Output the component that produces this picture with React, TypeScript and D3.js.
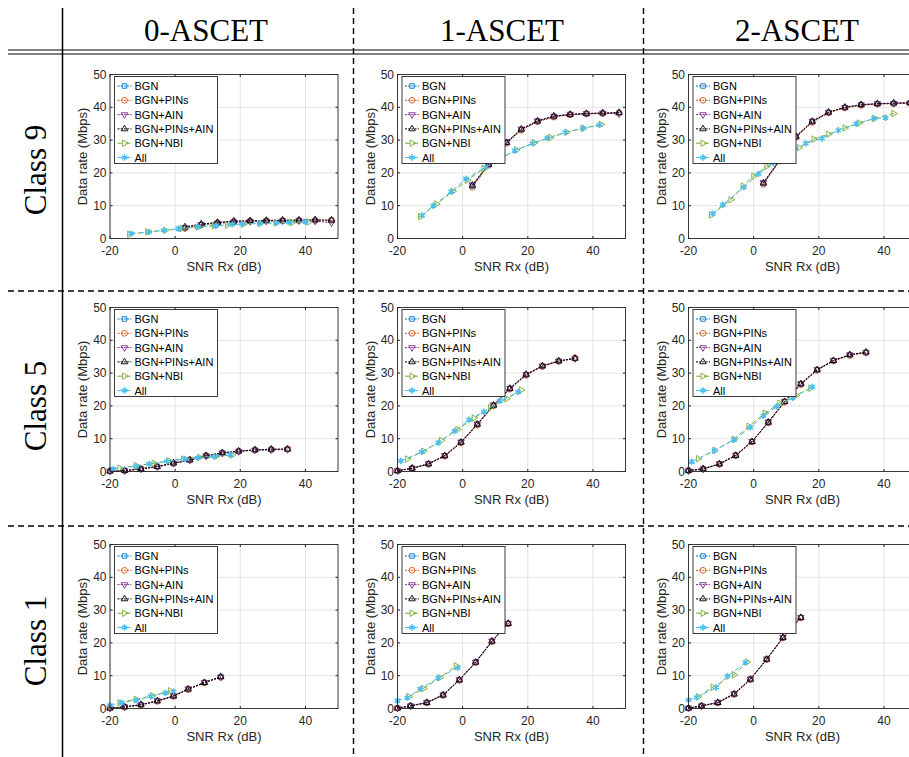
import React from "react";
import * as d3 from "d3";

// ---- table headers ----
const colHeaders = ["0-ASCET", "1-ASCET", "2-ASCET"];
const rowHeaders = ["Class 9", "Class 5", "Class 1"];
const legendNames = ["BGN", "BGN+PINs", "BGN+AIN", "BGN+PINs+AIN", "BGN+NBI", "All"];
const xTicks = [-20, 0, 20, 40];
const yTicks = [0, 10, 20, 30, 40, 50];

// ---- Class 9 / 0-ASCET ----
const c9a0X = [3, 8, 13, 18, 23, 28, 33, 38, 43, 48];
const c9a0Bgn = [3.2, 4.2, 4.8, 5.1, 5.3, 5.4, 5.4, 5.5, 5.5, 5.5];
const c9a0Pins = [3.1, 4.1, 4.8, 5.2, 5.3, 5.4, 5.5, 5.5, 5.5, 5.6];
const c9a0Ain = [3.3, 4.3, 4.6, 5.0, 5.2, 5.3, 5.4, 5.4, 5.3, 4.8];
const c9a0PinsAin = [3.5, 4.4, 4.9, 5.3, 5.4, 5.5, 5.6, 5.6, 5.7, 5.6];
const c9a0NbiX = [-14, -8.5, -3, 2, 7, 12, 16, 21, 26, 31, 36, 41];
const c9a0Nbi = [1.3, 2.0, 2.5, 3.0, 3.5, 3.9, 4.1, 4.4, 4.6, 4.8, 4.9, 5.0];
const c9a0AllX = [-13.5, -8, -3.5, 1, 7, 12.5, 17.5, 20.5, 26, 31, 35, 40];
const c9a0All = [1.5, 2.0, 2.5, 3.0, 3.6, 3.9, 4.3, 4.4, 4.6, 4.7, 4.9, 5.1];

// ---- Class 9 / 1-ASCET ----
const c9a1X = [3, 8, 13.5, 18, 23, 28, 33, 38, 43, 48];
const c9a1Bgn = [16.0, 22.5, 29.3, 33.2, 35.7, 37.2, 37.8, 38.0, 38.2, 38.3];
const c9a1Pins = [15.6, 22.3, 29.0, 33.0, 35.6, 37.0, 37.7, 38.0, 38.1, 38.2];
const c9a1Ain = [16.4, 22.8, 29.5, 33.4, 35.9, 37.3, 37.9, 38.1, 38.2, 38.0];
const c9a1PinsAin = [16.2, 22.6, 29.2, 33.3, 35.8, 37.3, 37.8, 38.1, 38.3, 38.4];
const c9a1NbiX = [-13, -8, -3, 1.5, 6.5, 11.5, 16.5, 22, 27, 32, 37, 42.5];
const c9a1Nbi = [6.7, 10.5, 14.4, 17.8, 21.3, 24.4, 27.0, 29.2, 30.8, 32.4, 33.6, 34.8];
const c9a1AllX = [-12.5, -9, -3.5, 1, 7, 11, 16, 21.5, 26, 31.5, 37, 42];
const c9a1All = [7.0, 10.0, 14.3, 18.2, 21.7, 24.0, 26.8, 29.0, 30.6, 32.4, 33.6, 34.6];

// ---- Class 9 / 2-ASCET ----
const c9a2X = [3, 8, 13, 18, 23, 28, 33, 38, 43, 48];
const c9a2Bgn = [16.8, 23.8, 31.0, 35.6, 38.4, 39.9, 40.7, 41.0, 41.2, 41.3];
const c9a2Pins = [16.5, 23.6, 30.8, 35.4, 38.3, 39.8, 40.6, 41.0, 41.1, 41.2];
const c9a2Ain = [17.1, 24.0, 31.2, 35.8, 38.5, 40.0, 40.8, 41.1, 41.2, 41.3];
const c9a2PinsAin = [16.9, 23.9, 31.1, 35.7, 38.5, 40.0, 40.8, 41.1, 41.3, 41.4];
const c9a2NbiX = [-13, -7, -3.3, 0, 4, 9, 14, 18.5, 23, 28, 32.5, 37, 43];
const c9a2Nbi = [7.2, 11.8, 16.0, 19.0, 22.0, 25.0, 27.7, 30.3, 31.8, 33.7, 35.2, 36.6, 38.1];
const c9a2AllX = [-12.5, -9.5, -3, 1.5, 6, 11, 16, 21, 26, 31.5, 37, 40.5];
const c9a2All = [7.6, 10.3, 15.6, 19.7, 23.0, 26.0, 29.0, 30.5, 33.0, 35.0, 36.6, 36.8];

// ---- Class 5 / 0-ASCET ----
const c5a0X = [-20, -15.5, -10.5, -5.5, -0.5, 4.5, 9.5, 14.5, 19.5, 24.5, 29.5, 34.5];
const c5a0Bgn = [0.1, 0.3, 0.8, 1.5, 2.5, 3.5, 4.8, 5.7, 6.2, 6.5, 6.7, 6.8];
const c5a0Pins = [0.1, 0.3, 0.9, 1.6, 2.4, 3.6, 4.9, 5.6, 6.2, 6.6, 6.7, 6.9];
const c5a0Ain = [0.1, 0.2, 0.7, 1.4, 2.5, 3.4, 4.7, 5.6, 6.1, 6.5, 6.6, 6.7];
const c5a0PinsAin = [0.1, 0.3, 0.8, 1.5, 2.6, 3.5, 4.8, 5.7, 6.2, 6.6, 6.8, 6.8];
const c5a0NbiX = [-17, -12, -6.5, -2, 2.5, 7.5, 12.5, 17.5];
const c5a0Nbi = [1.0, 1.8, 2.5, 3.3, 3.8, 4.3, 4.6, 5.0];
const c5a0AllX = [-19, -12, -8, -2.5, 3, 7, 12, 17];
const c5a0All = [0.8, 1.6, 2.3, 3.1, 3.8, 4.2, 4.6, 5.1];

// ---- Class 5 / 1-ASCET ----
const c5a1X = [-20, -15.5, -10.5, -5.5, -0.5, 4.5, 9.5, 14.5, 19.5, 24.5, 29.5, 34.5];
const c5a1Bgn = [0.2, 1.0, 2.3, 4.8, 8.9, 14.4, 20.2, 25.3, 29.5, 32.1, 33.6, 34.5];
const c5a1Pins = [0.2, 0.9, 2.2, 4.7, 8.7, 14.2, 20.0, 25.1, 29.3, 32.0, 33.6, 34.6];
const c5a1Ain = [0.2, 1.0, 2.4, 4.9, 9.0, 14.5, 20.3, 25.4, 29.6, 32.2, 33.7, 34.4];
const c5a1PinsAin = [0.2, 1.0, 2.3, 4.8, 8.9, 14.4, 20.2, 25.3, 29.6, 32.2, 33.7, 34.5];
const c5a1NbiX = [-17, -12, -6.5, -1.5, 3.5, 8.5, 13.5, 18];
const c5a1Nbi = [3.8, 6.2, 9.5, 12.8, 16.3, 19.5, 22.2, 24.8];
const c5a1AllX = [-19, -12.5, -7.5, -2.5, 2, 6.5, 11.5, 17];
const c5a1All = [3.2, 6.0, 8.8, 12.3, 15.8, 18.2, 21.6, 24.2];

// ---- Class 5 / 2-ASCET ----
const c5a2X = [-20, -15.5, -10.5, -5.5, -0.5, 4.5, 9.5, 14.5, 19.5, 24.5, 29.5, 34.5];
const c5a2Bgn = [0.3, 0.8, 2.3, 4.9, 9.1, 15.0, 21.3, 26.7, 31.0, 33.8, 35.5, 36.3];
const c5a2Pins = [0.3, 0.8, 2.2, 4.8, 9.0, 14.8, 21.1, 26.5, 30.9, 33.7, 35.4, 36.2];
const c5a2Ain = [0.2, 0.7, 2.4, 5.0, 9.2, 15.1, 21.4, 26.8, 31.1, 33.9, 35.6, 36.3];
const c5a2PinsAin = [0.3, 0.8, 2.3, 4.9, 9.1, 15.0, 21.3, 26.7, 31.0, 33.8, 35.6, 36.4];
const c5a2NbiX = [-17, -12, -6, -1.5, 3.5, 8, 13, 17.5];
const c5a2Nbi = [3.9, 6.4, 9.8, 13.8, 17.8, 20.8, 23.2, 25.4];
const c5a2AllX = [-19, -12, -6, -1, 3, 7, 12, 18];
const c5a2All = [3.0, 6.4, 9.7, 13.4, 17.0, 19.8, 22.5, 25.8];

// ---- Class 1 / 0-ASCET ----
const c1a0X = [-20, -15.5, -10.5, -5.5, -0.5, 4, 9, 14];
const c1a0Bgn = [0.1, 0.5, 1.1, 2.3, 3.8, 5.9, 7.9, 9.6];
const c1a0Pins = [0.1, 0.4, 1.0, 2.2, 3.7, 5.8, 7.8, 9.5];
const c1a0Ain = [0.1, 0.5, 1.1, 2.4, 3.9, 6.0, 8.0, 9.6];
const c1a0PinsAin = [0.1, 0.5, 1.2, 2.3, 3.8, 5.9, 7.9, 9.7];
const c1a0NbiX = [-17, -12, -7, -1.5];
const c1a0Nbi = [1.8, 2.8, 3.9, 5.4];
const c1a0AllX = [-20, -16.5, -12, -7.5, -3, -0.5];
const c1a0All = [1.0, 1.8, 2.5, 3.7, 4.8, 5.2];

// ---- Class 1 / 1-ASCET ----
const c1a1X = [-20, -16, -11, -6, -1, 4, 9, 14];
const c1a1Bgn = [0.1, 0.8, 1.8, 4.1, 8.7, 14.1, 20.5, 25.9];
const c1a1Pins = [0.1, 0.7, 1.7, 4.0, 8.6, 14.0, 20.4, 25.8];
const c1a1Ain = [0.1, 0.8, 1.9, 4.2, 8.8, 14.2, 20.6, 26.0];
const c1a1PinsAin = [0.1, 0.8, 1.8, 4.1, 8.7, 14.1, 20.5, 25.9];
const c1a1NbiX = [-16.5, -12, -7, -2];
const c1a1Nbi = [3.6, 6.1, 9.4, 13.0];
const c1a1AllX = [-20, -17, -13, -7.5, -1.5];
const c1a1All = [2.4, 3.3, 6.0, 9.3, 12.4];

// ---- Class 1 / 2-ASCET ----
const c1a2X = [-20, -16, -11, -6, -1, 4, 9, 14.5];
const c1a2Bgn = [0.1, 0.8, 1.8, 4.4, 8.9, 15.0, 21.6, 27.7];
const c1a2Pins = [0.1, 0.7, 1.7, 4.3, 8.8, 14.9, 21.5, 27.6];
const c1a2Ain = [0.1, 0.8, 1.9, 4.5, 9.0, 15.1, 21.7, 27.8];
const c1a2PinsAin = [0.1, 0.8, 1.8, 4.4, 8.9, 15.0, 21.6, 27.7];
const c1a2NbiX = [-17, -12.5, -6, -2];
const c1a2Nbi = [3.6, 6.5, 10.3, 14.2];
const c1a2AllX = [-20, -17.5, -11.5, -8, -2.5];
const c1a2All = [2.6, 3.4, 6.4, 9.9, 14.0];

const panels = [
  [c9a0X, c9a0Bgn, c9a0Pins, c9a0Ain, c9a0PinsAin, c9a0NbiX, c9a0Nbi, c9a0AllX, c9a0All],
  [c9a1X, c9a1Bgn, c9a1Pins, c9a1Ain, c9a1PinsAin, c9a1NbiX, c9a1Nbi, c9a1AllX, c9a1All],
  [c9a2X, c9a2Bgn, c9a2Pins, c9a2Ain, c9a2PinsAin, c9a2NbiX, c9a2Nbi, c9a2AllX, c9a2All],
  [c5a0X, c5a0Bgn, c5a0Pins, c5a0Ain, c5a0PinsAin, c5a0NbiX, c5a0Nbi, c5a0AllX, c5a0All],
  [c5a1X, c5a1Bgn, c5a1Pins, c5a1Ain, c5a1PinsAin, c5a1NbiX, c5a1Nbi, c5a1AllX, c5a1All],
  [c5a2X, c5a2Bgn, c5a2Pins, c5a2Ain, c5a2PinsAin, c5a2NbiX, c5a2Nbi, c5a2AllX, c5a2All],
  [c1a0X, c1a0Bgn, c1a0Pins, c1a0Ain, c1a0PinsAin, c1a0NbiX, c1a0Nbi, c1a0AllX, c1a0All],
  [c1a1X, c1a1Bgn, c1a1Pins, c1a1Ain, c1a1PinsAin, c1a1NbiX, c1a1Nbi, c1a1AllX, c1a1All],
  [c1a2X, c1a2Bgn, c1a2Pins, c1a2Ain, c1a2PinsAin, c1a2NbiX, c1a2Nbi, c1a2AllX, c1a2All],
];

// line / marker style of each series (matlab defaults)
const styles = [
  { color: "#0072BD", dash: "2,1.2", symbol: d3.symbolSquare2, rot: 0, size: 26 },
  { color: "#D95319", dash: "2,1.2", symbol: d3.symbolCircle, rot: 0, size: 26 },
  { color: "#7E2F8E", dash: "2,1.2", symbol: d3.symbolTriangle2, rot: 180, size: 30 },
  { color: "#000000", dash: "2,1.2", symbol: d3.symbolTriangle2, rot: 0, size: 30 },
  { color: "#77AC30", dash: "5,3", symbol: d3.symbolTriangle2, rot: 90, size: 30 },
  { color: "#4DBEEE", dash: "5,3", symbol: d3.symbolAsterisk, rot: 0, size: 28 },
];

const colLeft = [110, 397.5, 688.5];
const rowTop = [74.5, 307.5, 544.5];
const plotW = 228;
const plotH = 164;
const axisColor = "#262626";
const sans = "'Liberation Sans', Arial, Helvetica, sans-serif";
const serif = "'Liberation Serif', 'Times New Roman', serif";

const Marker = ({ x, y, st }) => {
  const path = d3.symbol().type(st.symbol).size(st.size)();
  const isAll = st.symbol === d3.symbolAsterisk;
  return (
    <path
      d={path}
      transform={`translate(${x},${y}) rotate(${st.rot})`}
      fill={isAll ? st.color : "none"}
      stroke={st.color}
      strokeWidth={isAll ? 1.6 : 0.9}
    />
  );
};

const Panel = ({ idx }) => {
  const row = Math.floor(idx / 3);
  const col = idx % 3;
  const left = colLeft[col];
  const top = rowTop[row];
  const p = panels[idx];

  const x = d3.scaleLinear().domain([-20, 50]).range([left, left + plotW]);
  const y = d3.scaleLinear().domain([0, 50]).range([top + plotH, top]);
  const line = d3
    .line()
    .x((d) => x(d[0]))
    .y((d) => y(d[1]));

  // pair up series with their x values
  const series = [
    d3.zip(p[0], p[1]),
    d3.zip(p[0], p[2]),
    d3.zip(p[0], p[3]),
    d3.zip(p[0], p[4]),
    d3.zip(p[5], p[6]),
    d3.zip(p[7], p[8]),
  ];

  const bottom = top + plotH;
  const right = left + plotW;
  const lgX = left + 4.5;
  const lgY = top + 2;

  return (
    <g>
      {/* grid */}
      {xTicks.map((t) => (
        <line key={"gx" + t} x1={x(t)} x2={x(t)} y1={top} y2={bottom} stroke="#e3e3e3" strokeWidth={1} />
      ))}
      {yTicks.map((t) => (
        <line key={"gy" + t} x1={left} x2={right} y1={y(t)} y2={y(t)} stroke="#e3e3e3" strokeWidth={1} />
      ))}

      {/* series */}
      {series.map((s, i) => (
        <g key={"s" + i}>
          <path d={line(s)} fill="none" stroke={styles[i].color} strokeWidth={1} strokeDasharray={styles[i].dash} />
          {s.map((d, j) => (
            <Marker key={j} x={x(d[0])} y={y(d[1])} st={styles[i]} />
          ))}
        </g>
      ))}

      {/* box and ticks */}
      <rect x={left} y={top} width={plotW} height={plotH} fill="none" stroke={axisColor} strokeWidth={0.9} />
      {xTicks.map((t) => (
        <g key={"tx" + t}>
          <line x1={x(t)} x2={x(t)} y1={bottom} y2={bottom - 2.5} stroke={axisColor} />
          <line x1={x(t)} x2={x(t)} y1={top} y2={top + 2.5} stroke={axisColor} />
          <text x={x(t)} y={bottom + 16.5} textAnchor="middle" fontSize={12} fill={axisColor} fontFamily={sans}>
            {t}
          </text>
        </g>
      ))}
      {yTicks.map((t) => (
        <g key={"ty" + t}>
          <line x1={left} x2={left + 2.5} y1={y(t)} y2={y(t)} stroke={axisColor} />
          <line x1={right} x2={right - 2.5} y1={y(t)} y2={y(t)} stroke={axisColor} />
          <text x={left - 3.5} y={y(t) + 4} textAnchor="end" fontSize={12} fill={axisColor} fontFamily={sans}>
            {t}
          </text>
        </g>
      ))}
      <text x={left + plotW / 2} y={bottom + 32} textAnchor="middle" fontSize={13} fill={axisColor} fontFamily={sans}>
        SNR Rx (dB)
      </text>
      <text
        transform={`translate(${left - 23},${top + plotH / 2}) rotate(-90)`}
        textAnchor="middle"
        fontSize={13}
        fill={axisColor}
        fontFamily={sans}
      >
        Data rate (Mbps)
      </text>

      {/* legend */}
      <rect x={lgX} y={lgY} width={103} height={87} fill="white" stroke={axisColor} strokeWidth={0.9} />
      {legendNames.map((n, i) => {
        const ly = lgY + 9.5 + i * 14.3;
        return (
          <g key={n}>
            <line x1={lgX + 3} x2={lgX + 17} y1={ly} y2={ly} stroke={styles[i].color} strokeDasharray={styles[i].dash} />
            <Marker x={lgX + 10} y={ly} st={styles[i]} />
            <text x={lgX + 20} y={ly + 4} fontSize={11} fill="#000" fontFamily={sans}>
              {n}
            </text>
          </g>
        );
      })}
    </g>
  );
};

export default function App() {
  return (
    <svg width={909} height={757} style={{ position: "absolute", left: 0, top: 0, background: "white" }}>
      {/* table frame */}
      <line x1={62.5} x2={62.5} y1={8} y2={757} stroke="#000" strokeWidth={1.5} />
      <line x1={8} x2={909} y1={50} y2={50} stroke="#000" strokeWidth={1.2} />
      <line x1={8} x2={909} y1={54} y2={54} stroke="#000" strokeWidth={1.2} />
      {[353.5, 643.5].map((vx) => (
        <line key={vx} x1={vx} x2={vx} y1={8} y2={757} stroke="#000" strokeWidth={1.4} strokeDasharray="6,4" />
      ))}
      {[291, 526].map((hy) => (
        <line key={hy} x1={8} x2={909} y1={hy} y2={hy} stroke="#000" strokeWidth={1.4} strokeDasharray="6,4" />
      ))}
      {colHeaders.map((h, i) => (
        <text key={h} x={[206, 502, 797][i]} y={41} textAnchor="middle" fontSize={31} fontFamily={serif} fill="#000">
          {h}
        </text>
      ))}
      {rowHeaders.map((h, i) => (
        <text
          key={h}
          transform={`translate(46,${[170, 406, 641][i]}) rotate(-90)`}
          textAnchor="middle"
          fontSize={31}
          fontFamily={serif}
          fill="#000"
        >
          {h}
        </text>
      ))}
      {panels.map((_, i) => (
        <Panel key={i} idx={i} />
      ))}
    </svg>
  );
}
